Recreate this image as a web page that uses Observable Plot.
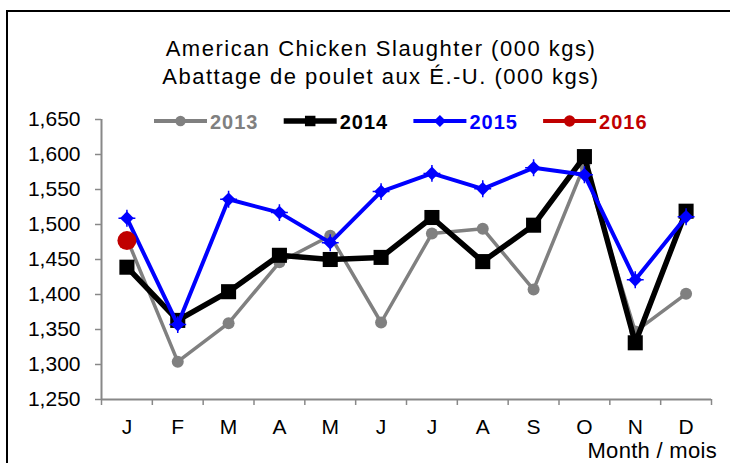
<!DOCTYPE html>
<html>
<head>
<meta charset="utf-8">
<script src="https://cdn.jsdelivr.net/npm/d3@7"></script>
<script src="https://cdn.jsdelivr.net/npm/@observablehq/plot@0.6"></script>
<style>
  html, body { margin: 0; padding: 0; background: #fff; }
  body { font-family: "Liberation Sans", Arial, sans-serif; }
  #wrap { position: relative; width: 730px; height: 463px; overflow: hidden; background: #fff; }
  #frame { position: absolute; left: 6px; top: 10px; width: 900px; height: 700px;
           border-left: 2px solid #000; border-top: 2px solid #000; box-sizing: border-box; }
  #title { position: absolute; left: 0; top: 35px; width: 762px; text-align: center;
           font-size: 22px; line-height: 28px; letter-spacing: 1.5px; color: #000; }
  #xlabel { position: absolute; right: 13px; top: 443px; font-size: 22px; line-height: 16px;
            letter-spacing: 0.3px; color: #000; white-space: nowrap; }
  #chart, #legend { position: absolute; left: 0; top: 0; }
</style>
</head>
<body>
<div id="wrap">
  <div id="frame"></div>
  <div id="chart"></div>
  <svg id="legend" width="730" height="150"></svg>
  <div id="title">American Chicken Slaughter (000 kgs)<br>Abattage de poulet aux É.-U. (000 kgs)</div>
  <div id="xlabel">Month / mois</div>
</div>
<script>
// ---- data ----
const months = ["Jan","Feb","Mar","Apr","May","Jun","Jul","Aug","Sep","Oct","Nov","Dec"];
const monthLabels = ["J","F","M","A","M","J","J","A","S","O","N","D"];
const v2013 = [1480,1304,1359,1446,1484,1360,1487,1494,1407,1585,1347,1401];
const v2014 = [1439,1363,1404,1456,1450,1453,1510,1447,1499,1597,1331,1519];
const v2015 = [1509,1357,1536,1517,1474,1547,1573,1551,1581,1571,1421,1511];
const months2016 = ["Jan"];
const v2016 = [1477];
const yTicks = [1250,1300,1350,1400,1450,1500,1550,1600,1650];
const seriesNames = ["2013","2014","2015","2016"];
const seriesColors = ["#808080","#000000","#0000ff","#c00000"];

// ---- tables ----
const rows = months.map((m, i) => ({i, month: m, y2013: v2013[i], y2014: v2014[i], y2015: v2015[i]}));
const rows2016 = months2016.map((m, k) => ({i: months.indexOf(m), value: v2016[k]}));
const xc = d => d.i + 0.5;

const plot = Plot.plot({
  width: 730,
  height: 463,
  marginLeft: 101,
  marginRight: 19,
  marginTop: 119,
  marginBottom: 64,
  style: {fontFamily: "'Liberation Sans', Arial, sans-serif", fontSize: "21px", background: "transparent", color: "#000"},
  x: {type: "linear", domain: [0, months.length], label: null},
  y: {domain: [yTicks[0], yTicks[yTicks.length - 1]], label: null},
  marks: [
    Plot.axisY({ticks: yTicks, tickFormat: d3.format(","), tickSize: 6, tickPadding: 15,
                stroke: "#888", strokeWidth: 1.5, fill: "#000", fontSize: 21, label: null}),
    Plot.axisX({ticks: d3.range(0, months.length + 1), tickSize: 6, tickFormat: () => "",
                stroke: "#888", strokeWidth: 1.5, label: null}),
    Plot.axisX({ticks: rows.map(xc), tickSize: 0, tickPadding: 20,
                tickFormat: d => monthLabels[Math.floor(d)], fill: "#000", fontSize: 21, label: null}),
    Plot.ruleX([0], {stroke: "#888", strokeWidth: 2}),
    Plot.ruleY([yTicks[0]], {stroke: "#888", strokeWidth: 2}),

    Plot.line(rows, {x: xc, y: "y2013", stroke: seriesColors[0], strokeWidth: 3.5}),
    Plot.dot(rows, {x: xc, y: "y2013", r: 6, fill: seriesColors[0], symbol: "circle"}),

    Plot.line(rows, {x: xc, y: "y2014", stroke: seriesColors[1], strokeWidth: 5.5}),
    Plot.dot(rows, {x: xc, y: "y2014", r: 8.5, fill: seriesColors[1], symbol: "square"}),

    Plot.line(rows, {x: xc, y: "y2015", stroke: seriesColors[2], strokeWidth: 4}),
    Plot.dot(rows, {x: xc, y: "y2015", r: 6.2, fill: seriesColors[2], symbol: "diamond2"}),
    Plot.dot(rows, {x: xc, y: "y2015", r: 5.5, stroke: seriesColors[2], strokeWidth: 1.5, symbol: "plus"}),

    Plot.dot(rows2016, {x: xc, y: "value", r: 9.5, fill: seriesColors[3], symbol: "circle"})
  ]
});
document.getElementById("chart").appendChild(plot);

// ---- legend ----
const lg = d3.select("#legend");
const symbols = [d3.symbolCircle, d3.symbolSquare, d3.symbolDiamond2, d3.symbolCircle];
const symSizes = [85, 110, 95, 100];
const lineW = [4, 5.5, 4, 4];
seriesNames.forEach((name, k) => {
  const x0 = 154 + k * 129.7, cy = 121;
  const g = lg.append("g").attr("transform", `translate(${x0},${cy})`);
  g.append("line").attr("x1", 0).attr("x2", 53).attr("y1", 0).attr("y2", 0)
    .attr("stroke", seriesColors[k]).attr("stroke-width", lineW[k]);
  g.append("path").attr("transform", "translate(26.5,0)")
    .attr("d", d3.symbol(symbols[k], symSizes[k])()).attr("fill", seriesColors[k]);
  g.append("text").attr("x", 56).attr("y", 7.5)
    .attr("font-family", "'Liberation Sans', Arial, sans-serif").attr("font-size", 20)
    .attr("font-weight", "bold").attr("letter-spacing", 1)
    .attr("fill", seriesColors[k]).text(name);
});
</script>
</body>
</html>
